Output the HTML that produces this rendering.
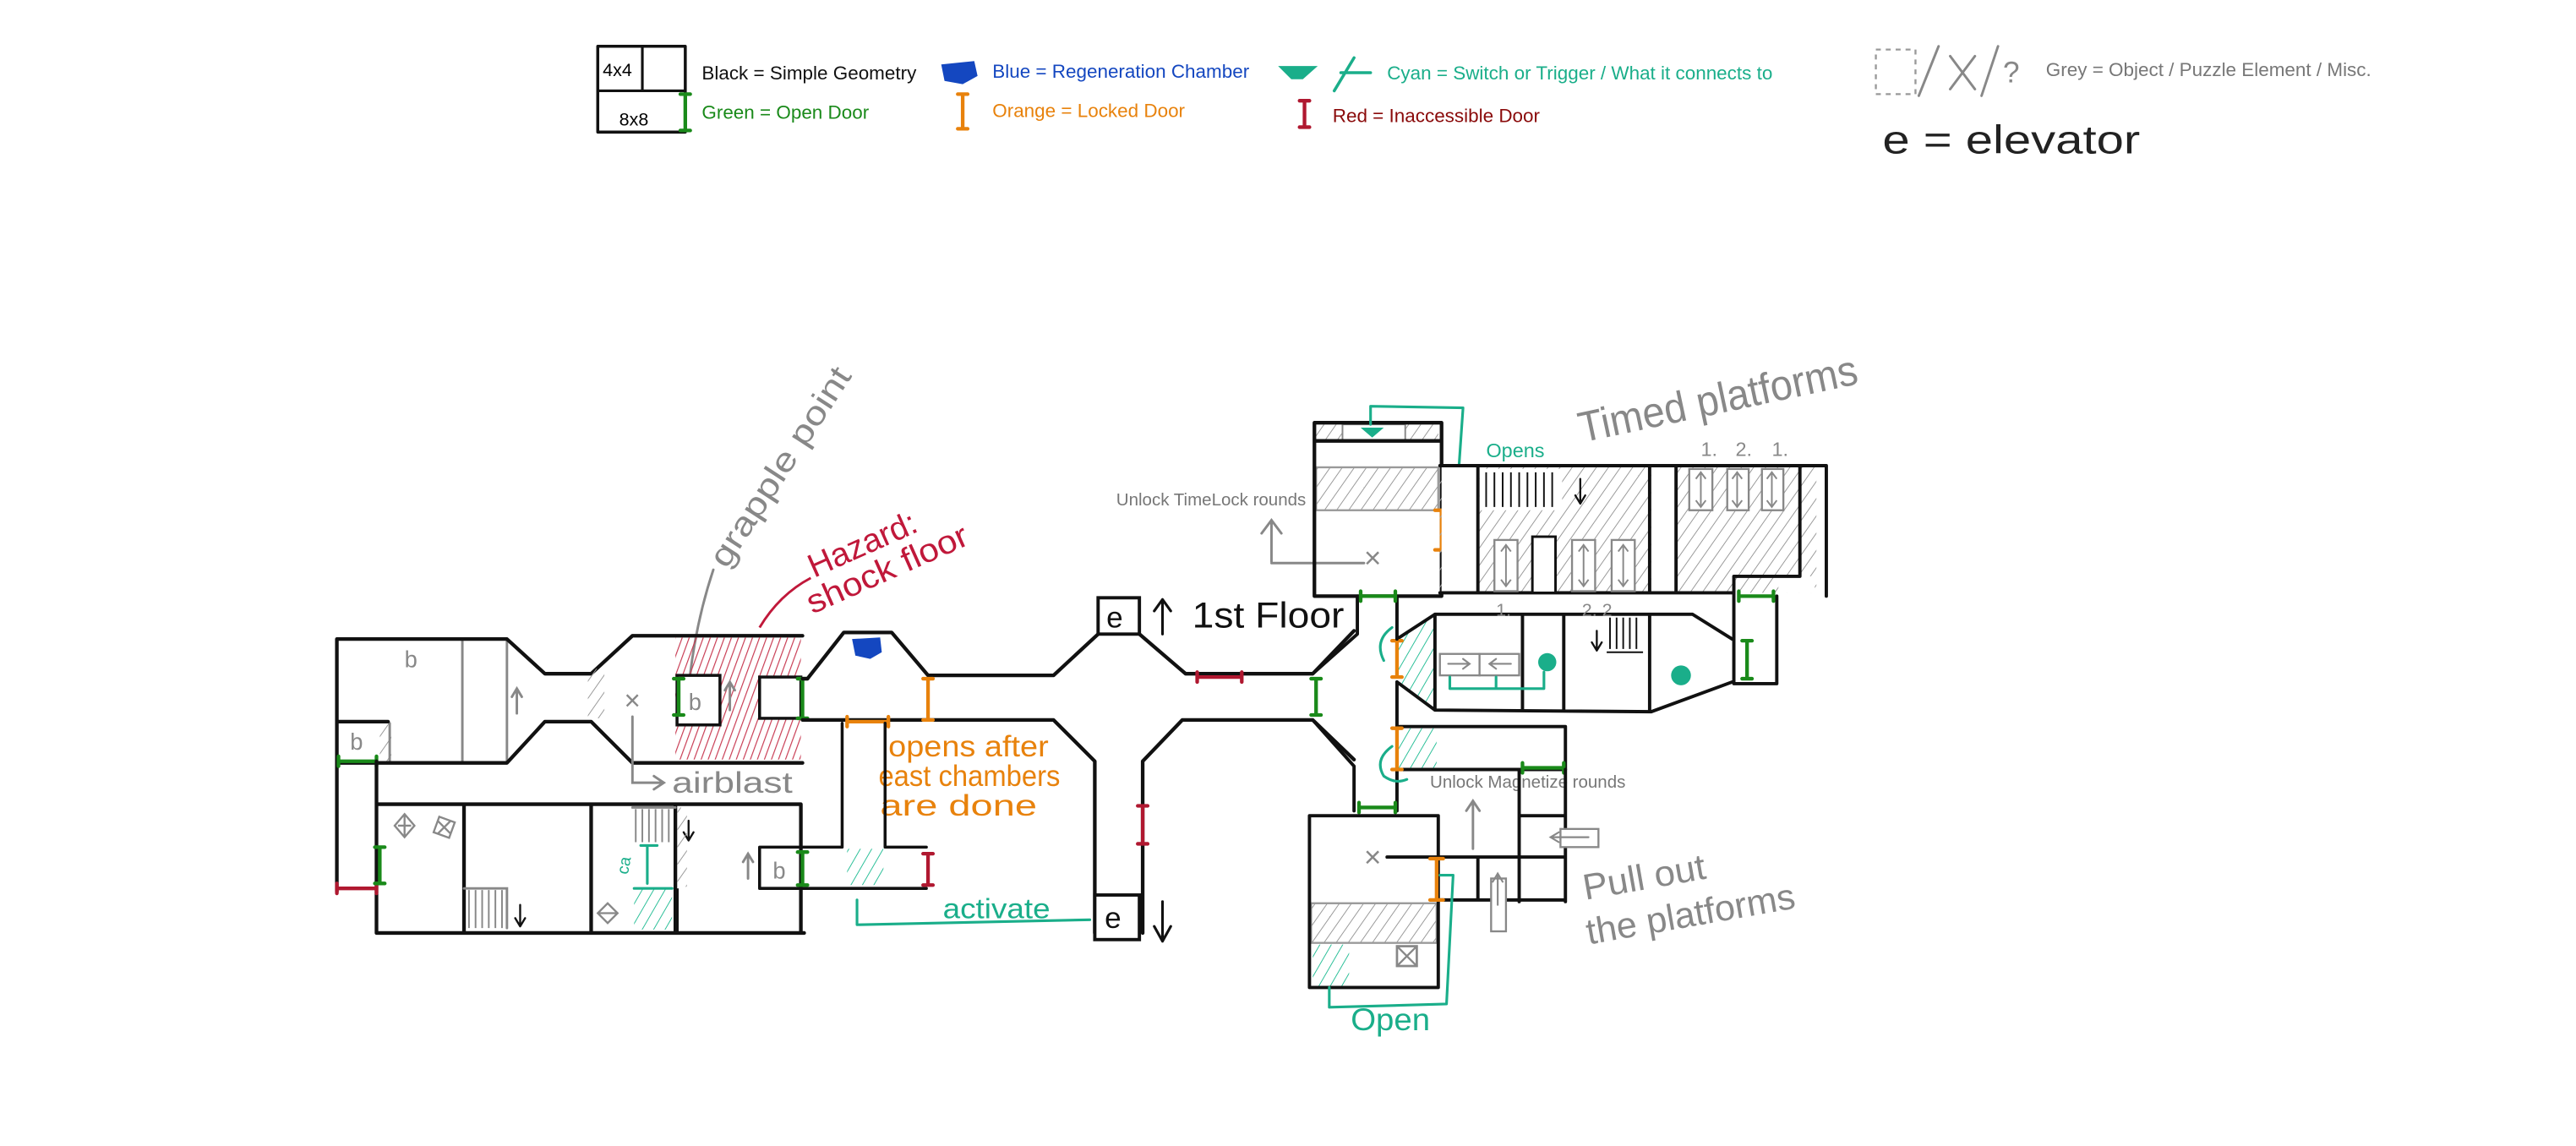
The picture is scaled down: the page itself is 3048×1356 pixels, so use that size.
<!DOCTYPE html>
<html><head><meta charset="utf-8"><style>
html,body{margin:0;padding:0;background:#fff;}
svg{display:block;}
.k{stroke:#111;stroke-width:2.2;fill:none;stroke-linecap:round;stroke-linejoin:round}
.g{stroke:#888;stroke-width:1.5;fill:none;stroke-linecap:round}
.c{stroke:#1aae8a;stroke-width:1.6;fill:none;stroke-linecap:round;stroke-linejoin:round}
.dg{stroke:#1a8a1a;stroke-width:2.2;fill:none;stroke-linecap:round}
.do{stroke:#e8820c;stroke-width:2.2;fill:none;stroke-linecap:round}
.dr{stroke:#b01830;stroke-width:2.2;fill:none;stroke-linecap:round}
text{font-family:"Liberation Sans",sans-serif}
.lg{font-size:11.5px}
.hw{font-family:"Liberation Sans Narrow","Liberation Sans",sans-serif}
</style></head><body>
<svg width="3048" height="1356" viewBox="0 0 1560 694" preserveAspectRatio="none" xmlns="http://www.w3.org/2000/svg">
<defs>
<pattern id="hg" width="6" height="6" patternUnits="userSpaceOnUse" patternTransform="rotate(35)"><line x1="0" y1="0" x2="0" y2="6" stroke="#999" stroke-width="1"/></pattern>
<pattern id="hc" width="6" height="6" patternUnits="userSpaceOnUse" patternTransform="rotate(30)"><line x1="0" y1="0" x2="0" y2="6" stroke="#2bbf98" stroke-width="1"/></pattern>
<pattern id="hr" width="4" height="4" patternUnits="userSpaceOnUse" patternTransform="rotate(20)"><line x1="0" y1="0" x2="0" y2="4" stroke="#c83a52" stroke-width="1.2"/></pattern>
</defs>
<rect width="1560" height="694" fill="#fff"/>

<!-- LEGEND -->
<rect class="k" x="362" y="28" width="53" height="52" style="stroke-width:1.8"/>
<path class="k" d="M362 55 H415 M389 28 V55" style="stroke-width:1.6"/>
<text x="365" y="46" font-size="11" class="hw">4x4</text>
<text x="375" y="76" font-size="11" class="hw">8x8</text>
<path class="dg" d="M415 57 V79 M412 57 H418 M412 79 H418"/>
<text class="lg" x="425" y="48" fill="#111">Black = Simple Geometry</text>
<text class="lg" x="425" y="72" fill="#1a8a1a">Green = Open Door</text>
<path d="M570 39 L590 37 L592 46 L583 51 L572 49 Z" fill="#1447c0"/>
<text class="lg" x="601" y="47" fill="#1447c0">Blue = Regeneration Chamber</text>
<path class="do" d="M583 57 V78 M580 57 H586 M580 78 H586"/>
<text class="lg" x="601" y="71" fill="#e8820c">Orange = Locked Door</text>
<path d="M774 40 L798 40 L789 48 L782 48 Z" fill="#1aae8a"/>
<path class="c" d="M820 35 L808 55 M812 44 H830" style="stroke-width:1.8"/>
<text class="lg" x="840" y="48" fill="#1aae8a">Cyan = Switch or Trigger / What it connects to</text>
<path class="dr" d="M790 61 V77 M787 61 H793 M787 77 H793"/>
<text class="lg" x="807" y="74" fill="#8a0a0a">Red = Inaccessible Door</text>
<rect x="1136" y="30" width="24" height="27" fill="none" stroke="#999" stroke-width="1.2" stroke-dasharray="3,3"/>
<path class="g" d="M1162 58 L1174 28 M1181 34 L1196 54 M1196 34 L1181 54 M1200 58 L1210 28"/>
<text x="1213" y="50" font-size="18" fill="#888">?</text>
<text class="lg" x="1239" y="46" fill="#777">Grey = Object / Puzzle Element / Misc.</text>
<text x="1140" y="93" font-size="24" fill="#222" class="hw" textLength="156" lengthAdjust="spacingAndGlyphs">e = elevator</text>

<!-- ANNOTATIONS -->
<text x="0" y="0" font-size="20" fill="#888" transform="translate(440,345) rotate(-57)" class="hw" textLength="140" lengthAdjust="spacingAndGlyphs">grapple point</text>
<path class="g" d="M432 345 Q422 375 418 408"/>
<text font-size="20" fill="#c0183a" transform="translate(493,350) rotate(-24)" class="hw" textLength="70" lengthAdjust="spacingAndGlyphs">Hazard:</text>
<text font-size="20" fill="#c0183a" transform="translate(492,372) rotate(-24)" class="hw" textLength="105" lengthAdjust="spacingAndGlyphs">shock floor</text>
<path d="M491 350 Q472 360 460 380" stroke="#c0183a" stroke-width="1.5" fill="none"/>
<text font-size="26" fill="#888" transform="translate(958,268) rotate(-12)" class="hw" textLength="172" lengthAdjust="spacingAndGlyphs">Timed platforms</text>
<text font-size="22" fill="#888" transform="translate(960,545) rotate(-10)" class="hw" textLength="75" lengthAdjust="spacingAndGlyphs">Pull out</text>
<text font-size="22" fill="#888" transform="translate(962,572) rotate(-10)" class="hw" textLength="128" lengthAdjust="spacingAndGlyphs">the platforms</text>
<text font-size="22" fill="#111" x="722" y="380" class="hw" textLength="92" lengthAdjust="spacingAndGlyphs">1st Floor</text>
<path class="k" d="M704 384 V364 M699 370 L704 363 L709 370" style="stroke-width:1.6"/>
<text font-size="18" fill="#e8820c" x="538" y="458" class="hw" textLength="97" lengthAdjust="spacingAndGlyphs">opens after</text>
<text font-size="18" fill="#e8820c" x="532" y="476" class="hw" textLength="110" lengthAdjust="spacingAndGlyphs">east chambers</text>
<text font-size="18" fill="#e8820c" x="533" y="494" class="hw" textLength="95" lengthAdjust="spacingAndGlyphs">are   done</text>
<text font-size="17" fill="#1aae8a" x="571" y="556" class="hw" textLength="65" lengthAdjust="spacingAndGlyphs">activate</text>
<path class="c" d="M519 545 V560 L660 557"/>
<text font-size="10.5" fill="#777" x="676" y="306">Unlock TimeLock rounds</text>
<path class="g" d="M770 340 V316 M764 323 L770 315 L776 323 M770 341 H826"/>
<text font-size="10.5" fill="#777" x="866" y="477">Unlock Magnetize rounds</text>
<text font-size="12" fill="#1aae8a" x="900" y="277">Opens</text>
<text font-size="19" fill="#1aae8a" x="818" y="624" class="hw" textLength="48" lengthAdjust="spacingAndGlyphs">Open</text>

<!-- LEFT BUILDING -->
<rect x="230" y="438" width="7" height="24" fill="url(#hg)"/>
<path class="g" d="M280 387 V462 M307 387 V462 M236 438 V462"/>
<text x="245" y="404" font-size="14" fill="#888">b</text>
<text x="212" y="454" font-size="14" fill="#888">b</text>
<path class="g" d="M313 432 V418 M310 422 L313 417 L316 422"/>
<path class="k" d="M204 387 H307 L330 408 H358 L383 385 H486 M204 387 V540 M204 437 H235 M204 462 H307 L330 437 H358 L383 462 H486"/>
<rect x="356" y="405" width="10" height="30" fill="url(#hg)"/>
<text x="378" y="430" font-size="17" fill="#888">×</text>
<path class="g" d="M383 434 V474 H400 M396 470 L402 474 L396 478"/>
<text x="407" y="480" font-size="18" fill="#888" class="hw" textLength="73" lengthAdjust="spacingAndGlyphs">airblast</text>
<rect x="409" y="386" width="76" height="74" fill="url(#hr)"/>
<rect x="410" y="409" width="26" height="30" fill="#fff" stroke="#111" stroke-width="1.8"/>
<rect x="460" y="410" width="25" height="25" fill="#fff" stroke="#111" stroke-width="1.8"/>
<text x="417" y="430" font-size="14" fill="#888">b</text>
<path class="g" d="M442 430 V414 M439 418 L442 413 L445 418"/>
<path class="dg" d="M411 411 V433 M408 411 H414 M408 433 H414 M486 411 V435 M483 411 H489 M483 435 H489"/>
<path class="dg" d="M205 461 H228 M205 458 V464 M228 458 V464"/>
<!-- lower left building -->
<path class="k" d="M228 461 V565 H487 M228 487 H485 V565 M281 487 V565 M358 487 V565 M409 487 V565"/>
<path class="dr" d="M204 538 H228 M204 535 V541 M228 535 V541"/>
<path class="dg" d="M230 513 V535 M227 513 H233 M227 535 H233"/>
<g stroke="#888" stroke-width="1.2" fill="none">
<path d="M245 493 L251 500 L245 507 L239 500 Z M241 500 H249 M245 493 V507"/>
<rect x="264" y="496" width="10" height="10" transform="rotate(20 269 501)"/><path d="M265 497 L273 505 M273 497 L265 505"/>
<path d="M368 547 L374 553 L368 559 L362 553 Z M362 553 H374"/>
</g>
<path stroke="#888" stroke-width="1" d="M284 539 V562 M288 539 V562 M292 539 V562 M296 539 V562 M300 539 V562 M304 539 V562 M385 490 V510 M389 490 V510 M393 490 V510 M397 490 V510 M401 490 V510 M405 490 V510"/>
<path class="g" d="M281 538 H307 V562 M383 489 H409"/>
<path class="k" d="M315 548 V560 M312 556 L315 561 L318 556 M417 497 V508 M414 504 L417 509 L420 504" style="stroke-width:1.2"/>
<rect x="384" y="538" width="23" height="25" fill="url(#hc)"/>
<path class="c" d="M384 538 H407 M388 512 H398 M392 512 V535"/>
<text x="372" y="530" font-size="10" fill="#1aae8a" transform="rotate(-80 376 525)">ca</text>
<rect x="408" y="538" width="3" height="26" fill="#111"/>
<rect x="410" y="489" width="6" height="48" fill="url(#hg)"/>

<!-- central corridors -->
<path class="k" d="M486 411 H489 L511 383 H540 L562 409 H638 L665 384 M486 436 H638 L663 461 V565 M692 565 V461 L716 436 H795 L820 460 M690 384 L718 408 H795 L820 382"/>
<path d="M516 387 L533 386 L534 395 L527 399 L518 397 Z" fill="#1447c0"/>
<path class="do" d="M562 411 V436 M559 411 H565 M559 436 H565 M513 437 H538 M513 434 V440 M538 434 V440"/>
<path class="k" d="M510 438 V513 H460 V538 H561 M536 438 V513 H561" style="stroke-width:1.8"/>
<rect x="513" y="514" width="22" height="22" fill="url(#hc)"/>
<text x="468" y="532" font-size="14" fill="#888">b</text>
<path class="g" d="M453 532 V518 M450 522 L453 517 L456 522"/>
<path class="dg" d="M486 516 V536 M483 516 H489 M483 536 H489"/>
<path class="dr" d="M562 517 V536 M559 517 H565 M559 536 H565 M725 410 H752 M725 407 V413 M752 407 V413 M692 488 V511 M689 488 H695 M689 511 H695"/>
<rect x="665" y="362" width="25" height="22" fill="#fff" stroke="#111" stroke-width="2"/>
<text x="670" y="380" font-size="18" fill="#111" class="hw">e</text>
<rect x="663" y="542" width="27" height="27" fill="#fff" stroke="#111" stroke-width="2"/>
<text x="669" y="562" font-size="18" fill="#111" class="hw">e</text>
<path class="k" d="M704 546 V570 M699 561 L704 570 L709 561" style="stroke-width:1.6"/>
<path class="dg" d="M797 411 V433 M794 411 H800 M794 433 H800"/>

<!-- EAST: timelock room -->
<rect x="797" y="257" width="74" height="10" fill="url(#hg)"/>
<rect x="813" y="257" width="38" height="10" fill="#fff" stroke="#888" stroke-width="1"/>
<path d="M824 259 H838 L831 265 Z" fill="#1aae8a"/>
<rect x="797" y="283" width="74" height="26" fill="url(#hg)" stroke="#999" stroke-width="1.2"/>
<path class="k" d="M796 256 H873 V361 M796 256 V361 H873 M796 267 H873"/>
<text x="826" y="344" font-size="18" fill="#888">×</text>
<path class="c" d="M830 257 V246 L886 247 L881 319 L874 319"/>
<path class="do" d="M873 309 V333 M869 309 H877 M869 333 H877"/>
<!-- timed platforms -->
<rect x="872" y="283" width="228" height="76" fill="url(#hg)"/>
<rect x="873" y="283" width="22" height="76" fill="#fff"/>
<rect x="1000" y="283" width="15" height="76" fill="#fff"/>
<rect x="1077" y="349" width="22" height="10" fill="#fff"/>
<rect x="896" y="284" width="50" height="25" fill="#fff"/>
<path stroke="#111" stroke-width="1" d="M900 286 V307 M905 286 V307 M910 286 V307 M915 286 V307 M920 286 V307 M925 286 V307 M930 286 V307 M935 286 V307 M940 286 V307"/>
<path class="k" d="M957 290 V304 M954 300 L957 305 L960 300" style="stroke-width:1.2"/>
<path class="k" d="M872 282 H1106 V361 M872 359 H1050 M895 282 V359 M999 282 V359 M1015 282 V359 M1090 282 V349 H1050 V414 H1076 V361" style="stroke-width:2"/>
<g fill="#fff" stroke="#888" stroke-width="1.2">
<rect x="905" y="327" width="14" height="31"/><rect x="952" y="327" width="14" height="31"/><rect x="976" y="327" width="14" height="31"/>
<rect x="1023" y="284" width="14" height="25"/><rect x="1046" y="284" width="13" height="25"/><rect x="1067" y="284" width="13" height="25"/>
</g>
<rect x="928" y="325" width="14" height="34" fill="#fff" stroke="#111" stroke-width="1.5"/>
<g stroke="#888" stroke-width="1" fill="none">
<path d="M912 331 V354 M909 334 L912 330 L915 334 M909 351 L912 355 L915 351"/>
<path d="M959 331 V354 M956 334 L959 330 L962 334 M956 351 L959 355 L962 351"/>
<path d="M983 331 V354 M980 334 L983 330 L986 334 M980 351 L983 355 L986 351"/>
<path d="M1030 287 V306 M1027 290 L1030 286 L1033 290 M1027 303 L1030 307 L1033 303"/>
<path d="M1052 287 V306 M1049 290 L1052 286 L1055 290 M1049 303 L1052 307 L1055 303"/>
<path d="M1073 287 V306 M1070 290 L1073 286 L1076 290 M1070 303 L1073 307 L1076 303"/>
</g>
<text x="1030" y="276" font-size="12" fill="#888">1.</text><text x="1051" y="276" font-size="12" fill="#888">2.</text><text x="1073" y="276" font-size="12" fill="#888">1.</text>
<path class="dg" d="M1053 361 H1074 M1053 358 V364 M1074 358 V364 M1058 388 V411 M1055 388 H1061 M1055 411 H1061"/>
<!-- middle east room -->
<path d="M846 388 L869 373 V430 L846 413 Z" fill="url(#hc)"/>
<path class="k" d="M846 387 L869 372 H1025 L1049 387 M846 413 L869 430 L1000 431 L1049 413 M869 372 V430 M922 372 V430 M947 372 V430 M999 372 V431" style="stroke-width:2"/>
<path stroke="#111" stroke-width="1" d="M975 374 V393 M979 374 V393 M983 374 V393 M987 374 V393 M991 374 V393 M973 395 H995"/>
<path class="k" d="M967 382 V393 M964 389 L967 394 L970 389" style="stroke-width:1.2"/>
<text x="906" y="373" font-size="11" fill="#888">1.</text><text x="958" y="373" font-size="11" fill="#888">2. 2</text>
<rect x="872" y="396" width="24" height="13" fill="#fff" stroke="#888" stroke-width="1.2"/>
<rect x="896" y="396" width="24" height="13" fill="#fff" stroke="#888" stroke-width="1.2"/>
<path class="g" d="M877 402 H890 M886 399 L890 402 L886 405 M915 402 H902 M906 399 L902 402 L906 405" style="stroke-width:1.1"/>
<path class="c" d="M878 410 V417 H935 V407 M906 410 V417"/>
<circle cx="937" cy="401" r="5.5" fill="#1aae8a"/><circle cx="1018" cy="409" r="6" fill="#1aae8a"/>
<path class="do" d="M846 388 V410 M843 388 H849 M843 410 H849"/>
<path class="c" d="M843 380 Q832 388 838 400"/>
<!-- vertical connector -->
<path class="k" d="M822 361 V384 L795 408 M846 361 V387 M846 413 V491 M795 436 L820 464 V491" style="stroke-width:2"/>
<path class="dg" d="M824 361 H845 M824 358 V364 M845 358 V364"/>
<path class="k" d="M846 440 H948 V466 H846" style="stroke-width:2"/>
<rect x="847" y="441" width="23" height="24" fill="url(#hc)"/>
<path class="do" d="M846 441 V466 M843 441 H849 M843 466 H849"/>
<path class="c" d="M843 452 Q832 460 838 470 Q845 475 852 472"/>
<path class="dg" d="M922 465 H947 M922 462 V468 M947 462 V468 M823 489 H845 M823 486 V492 M845 486 V492"/>
<!-- lower east cluster -->
<path class="k" d="M920 466 V546 M948 466 V546 M920 494 H948 M840 519 H948 M871 545 H948 M895 519 V545" style="stroke-width:2"/>
<path class="g" d="M892 514 V486 M888 491 L892 485 L896 491"/>
<rect x="945" y="502" width="23" height="11" fill="#fff" stroke="#888" stroke-width="1.2"/>
<path class="g" d="M962 507 H940 M944 504 L939 507 L944 510" style="stroke-width:1.1"/>
<rect x="903" y="532" width="9" height="32" fill="#fff" stroke="#888" stroke-width="1.2"/>
<path class="g" d="M907 548 V530 M904 534 L907 529 L910 534" style="stroke-width:1.1"/>
<rect x="794" y="547" width="76" height="24" fill="url(#hg)" stroke="#999" stroke-width="1.2"/>
<rect x="795" y="572" width="22" height="25" fill="url(#hc)"/>
<path class="k" d="M793 494 H871 V598 H793 Z" style="stroke-width:2"/>
<text x="826" y="525" font-size="18" fill="#888">×</text>
<rect x="846" y="573" width="12" height="12" fill="none" stroke="#888" stroke-width="1.4"/>
<path class="g" d="M846 573 L858 585 M858 573 L846 585" style="stroke-width:1.2"/>
<path class="do" d="M870 520 V545 M866 520 H874 M866 545 H874"/>
<path class="c" d="M805 598 V610 L876 608 L880 530 L872 530"/>
</svg>
</body></html>
